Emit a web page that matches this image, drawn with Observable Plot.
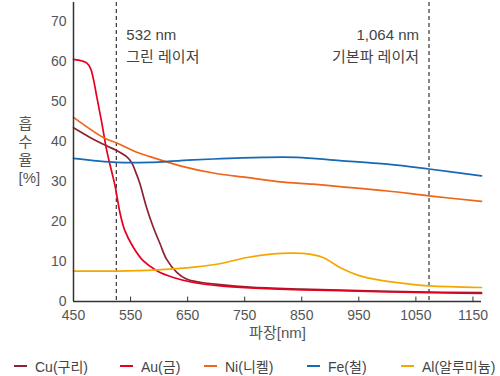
<!DOCTYPE html>
<html><head><meta charset="utf-8">
<script src="https://cdn.jsdelivr.net/npm/d3@7"></script>
<script src="https://cdn.jsdelivr.net/npm/@observablehq/plot@0.6"></script>
<style>
body{margin:0;background:#fff;font-family:"Liberation Sans","Noto Sans CJK KR",sans-serif;}
#wrap{position:relative;width:500px;height:376px;}
#legend{position:absolute;left:0;top:356px;width:500px;height:20px;font-size:14px;color:#444;}
.item{position:absolute;top:0;height:20px;display:flex;align-items:center;}
.sw{width:13px;height:2px;margin-right:8px;}
</style></head>
<body><div id="wrap"><div id="chart"></div><div id="legend"></div></div>
<script>
const seriesNames = ["Cu(구리)","Au(금)","Ni(니켈)","Fe(철)","Al(알루미늄)"];
const seriesColors = ["#8c2232","#e5001e","#ef6418","#1669b4","#f5a700"];
const cu = [[450,43.4],[479,41],[508,38.9],[526,37.7],[543,36.2],[552,34.7],[558,32.7],[566,29.6],[578,23.5],[590,18.5],[602,14.3],[613,10.6],[631,7.3],[648,5.6],[672,4.8],[707,4.2],[759,3.6],[850,3.1],[950,2.7],[1050,2.4],[1165,2.2]];
const au = [[450,60.5],[465,60.1],[473,59.6],[480,58.2],[485,55.5],[491,51],[500,44.3],[508,37.9],[517,32.4],[523,28.8],[527,25.6],[532,21.8],[540,17.7],[555,13.5],[572,10.2],[596,7.7],[625,6],[660,4.75],[707,3.9],[759,3.4],[850,2.9],[950,2.6],[1050,2.25],[1165,2.0]];
const ni = [[450,46],[502,41],[526,39.6],[561,37.3],[584,36.2],[637,33.9],[695,32.1],[753,31],[812,29.9],[870,29.3],[917,28.7],[1000,27.6],[1073,26.4],[1165,25]];
const fe = [[450,35.75],[526,34.75],[584,34.75],[637,35.2],[695,35.6],[782,36],[841,36],[917,35.2],[1000,34.3],[1073,33.1],[1165,31.4]];
const al = [[450,7.6],[526,7.6],[597,7.9],[648,8.4],[701,9.3],[754,11],[800,11.9],[830,12.1],[852,12],[887,11],[917,8.5],[952,6.4],[992,5.2],[1039,4.35],[1073,3.9],[1165,3.5]];
const xTicks = [450,550,650,750,850,950,1050,1150];
const yTicks = [0,10,20,30,40,50,60,70];
const laserPos = [525, 1073];
const laserLine1 = ["532 nm","1,064 nm"];
const laserLine2 = ["그린 레이저","기본파 레이저"];

const allSeries = [cu, au, ni, fe, al];
const rows = allSeries.flatMap((s, i) => s.map(([nm, v]) => ({nm, v, name: seriesNames[i]})));
const lasers = laserPos.map((p, i) => ({p, l1: laserLine1[i], l2: laserLine2[i]}));
const green = [lasers[0]], fund = [lasers[1]];
const yTop = 74.7;

const chart = Plot.plot({
  width: 500, height: 350,
  marginTop: 2, marginBottom: 49, marginLeft: 73, marginRight: 19,
  style: {fontFamily: '"Liberation Sans","Noto Sans CJK KR",sans-serif', fontSize: "14px", color: "#555"},
  x: {domain: [450, 1165]},
  y: {domain: [0, yTop]},
  color: {domain: seriesNames, range: seriesColors},
  marks: [
    Plot.ruleX(lasers, {x: "p", stroke: "#222", strokeWidth: 1.1, strokeDasharray: "4,3"}),
    Plot.text(green, {x: "p", y: () => yTop, dy: 33, dx: 10, text: "l1", textAnchor: "start", fill: "#444", fontSize: 15}),
    Plot.text(green, {x: "p", y: () => yTop, dy: 55, dx: 10, text: "l2", textAnchor: "start", fill: "#444", fontSize: 15}),
    Plot.text(fund, {x: "p", y: () => yTop, dy: 33, dx: -10, text: "l1", textAnchor: "end", fill: "#444", fontSize: 15}),
    Plot.text(fund, {x: "p", y: () => yTop, dy: 55, dx: -10, text: "l2", textAnchor: "end", fill: "#444", fontSize: 15}),
    Plot.line(rows, {x: "nm", y: "v", z: "name", stroke: "name", strokeWidth: 1.7, curve: "catmull-rom"}),
    Plot.ruleY([0], {stroke: "#333", strokeWidth: 1.5}),
    Plot.ruleX([450], {stroke: "#333", strokeWidth: 1.5}),
    Plot.ruleX(xTicks, {x: d => d, y1: 0, y2: 1.1, stroke: "#333", strokeWidth: 1}),
    Plot.axisX(xTicks, {tickSize: 0, tickPadding: 9, tickFormat: d => String(d), label: null, fill: "#555", fontSize: 14}),
    Plot.axisY(yTicks, {tickSize: 0, tickPadding: 7, label: null, fill: "#555", fontSize: 14}),
    Plot.text(["파장[nm]"], {frameAnchor: "bottom", dy: 36, text: d => d, fill: "#555", fontSize: 15}),
    Plot.text(["흡\n수\n율\n[%]"], {frameAnchor: "left", dx: -55, dy: -2, text: d => d, lineHeight: 1.2, fill: "#555", fontSize: 15})
  ]
});
document.getElementById("chart").appendChild(chart);

const leftPos = [14, 120, 204, 307, 401];
const legend = document.getElementById("legend");
seriesNames.forEach((n, i) => {
  const it = document.createElement("div");
  it.className = "item";
  it.style.left = leftPos[i] + "px";
  const sw = document.createElement("span");
  sw.className = "sw";
  sw.style.background = seriesColors[i];
  const t = document.createElement("span");
  t.textContent = n;
  it.appendChild(sw); it.appendChild(t);
  legend.appendChild(it);
});
</script></body></html>
